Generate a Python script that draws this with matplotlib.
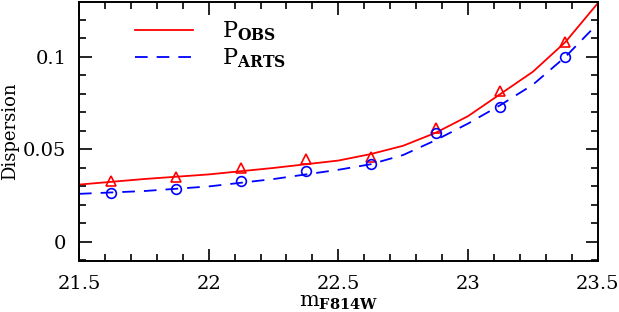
import matplotlib
matplotlib.use("Agg")
import matplotlib.pyplot as plt
from matplotlib.ticker import MultipleLocator

plt.rcParams['font.family'] = 'DejaVu Serif'
plt.rcParams['mathtext.fontset'] = 'dejavuserif'

# binned measurements
mag_bins = [21.625, 21.875, 22.125, 22.375, 22.625, 22.875, 23.125, 23.375]
disp_obs = [0.033, 0.035, 0.040, 0.045, 0.046, 0.0615, 0.0815, 0.108]
disp_arts = [0.0265, 0.0287, 0.033, 0.0385, 0.042, 0.059, 0.073, 0.100]

# smooth fits
mag_fit = [21.5, 21.75, 22.0, 22.25, 22.5, 22.625, 22.75, 22.875, 23.0, 23.125, 23.25, 23.375, 23.5]
fit_obs = [0.031, 0.034, 0.0365, 0.040, 0.044, 0.0475, 0.052, 0.059, 0.068, 0.080, 0.092, 0.108, 0.129]
fit_arts = [0.026, 0.0275, 0.030, 0.034, 0.039, 0.042, 0.047, 0.055, 0.064, 0.074, 0.085, 0.100, 0.118]

fig = plt.figure(figsize=(6.19, 3.12), dpi=100)
ax = fig.add_axes([0.1276, 0.1635, 0.838, 0.83])

ax.plot(mag_fit, fit_obs, color='red', lw=1.3, label=r'P$_{\mathbf{OBS}}$')
ax.plot(mag_fit, fit_arts, color='blue', lw=1.3, ls=(0, (7, 5)), label=r'P$_{\mathbf{ARTS}}$')
ax.plot(mag_bins, disp_obs, ls='none', marker='^', ms=6.5, mfc='none', mec='red', mew=1.2)
ax.plot(mag_bins, disp_arts, ls='none', marker='o', ms=7, mfc='none', mec='blue', mew=1.2)

ax.set_xlim(21.5, 23.5)
ax.set_ylim(-0.0103, 0.1297)
ax.xaxis.set_major_locator(MultipleLocator(0.5))
ax.xaxis.set_minor_locator(MultipleLocator(0.1))
ax.yaxis.set_major_locator(MultipleLocator(0.05))
ax.yaxis.set_minor_locator(MultipleLocator(0.01))
ax.set_xticks([21.5, 22, 22.5, 23, 23.5])
ax.set_xticklabels(['21.5', '22', '22.5', '23', '23.5'])
ax.set_yticks([0, 0.05, 0.1])
ax.set_yticklabels(['0', '0.05', '0.1'])
ax.tick_params(which='both', direction='in', top=True, right=True, labelsize=14, width=1.2)
ax.tick_params(axis='x', which='major', length=9, pad=10)
ax.tick_params(axis='y', which='major', length=9, pad=9)
ax.tick_params(which='minor', length=5)
for s in ax.spines.values():
    s.set_linewidth(1.4)

ax.set_xlabel(r'm$_{\mathbf{F814W}}$', fontsize=15, labelpad=0)
ax.set_ylabel('Dispersion', fontsize=13, labelpad=3)

ax.legend(loc='upper left', bbox_to_anchor=(0.07, 1.01), frameon=False, fontsize=16,
          handlelength=2.6, handletextpad=1.3, labelspacing=0.15)

fig.savefig('out.png', dpi=100)
